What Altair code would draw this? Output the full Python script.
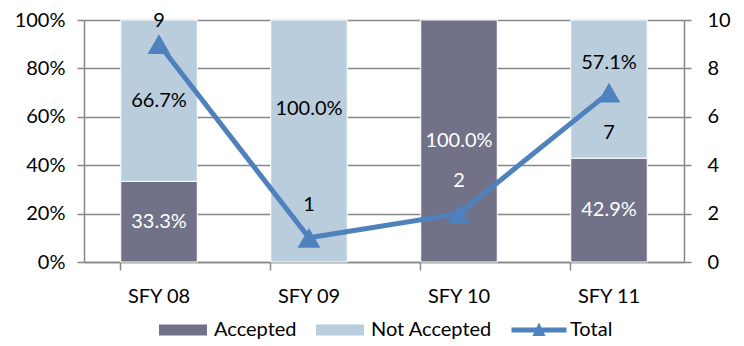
import altair as alt
import pandas as pd

categories = ["SFY 08", "SFY 09", "SFY 10", "SFY 11"]
accepted_pct = [33.3, 0.0, 100.0, 42.9]
not_accepted_pct = [66.7, 100.0, 0.0, 57.1]
totals = [9, 1, 2, 7]
series_names = ["Accepted", "Not Accepted", "Total"]
pct_ticks = [0, 20, 40, 60, 80, 100]
count_ticks = [0, 2, 4, 6, 8, 10]

COL_ACC = "#717287"
COL_NOT = "#b9cddd"
COL_TOT = "#4f81bd"
GRID = "#878787"
FONT = "Lato"
FS = 20

rows = []
for c, a, n in zip(categories, accepted_pct, not_accepted_pct):
    rows.append(dict(cat=c, series="Accepted", sidx=0, pct=a, mid=a / 2, label=f"{a:.1f}%"))
    rows.append(dict(cat=c, series="Not Accepted", sidx=1, pct=n, mid=a + n / 2, label=f"{n:.1f}%"))
bars_df = pd.DataFrame(rows)
bars_df = bars_df[bars_df.pct > 0].reset_index(drop=True)
tot_df = pd.DataFrame(dict(cat=categories, total=totals, tlabel=[str(t) for t in totals]))

x_enc = alt.X(
    "cat:N", sort=categories, title=None,
    scale=alt.Scale(domain=categories, paddingInner=0.49, paddingOuter=0.245),
    axis=alt.Axis(labelAngle=0, labelFont=FONT, labelFontSize=FS, labelColor="black",
                  labelPadding=16, tickSize=8, tickWidth=1.5, tickColor=GRID, bandPosition=0,
                  domainColor=GRID, domainWidth=1.5, grid=False),
)

left_axis = alt.Axis(values=pct_ticks, labelExpr="datum.value + '%'", grid=True, gridColor=GRID,
                     gridWidth=1.5, tickSize=7, tickWidth=1.5, tickColor=GRID, domainColor=GRID,
                     domainWidth=1.5, labelFont=FONT, labelFontSize=FS, labelColor="black",
                     labelPadding=12, orient="left", title=None)
pct_scale = alt.Scale(domain=[0, 100], nice=False)

bars = alt.Chart(bars_df).mark_bar(stroke="white", strokeWidth=1).encode(
    x=x_enc,
    y=alt.Y("pct:Q", stack="zero", scale=pct_scale, axis=left_axis, title=None),
    color=alt.Color("series:N", scale=alt.Scale(domain=series_names[:2], range=[COL_ACC, COL_NOT]), legend=None),
    order=alt.Order("sidx:Q"),
)

def bar_text(filter_expr, dy):
    return alt.Chart(bars_df).transform_filter(filter_expr).mark_text(
        font=FONT, fontSize=FS, baseline="middle", align="center", dy=dy
    ).encode(
        x=x_enc,
        y=alt.Y("mid:Q", scale=pct_scale, axis=left_axis, title=None),
        text="label:N",
        color=alt.condition("datum.series == 'Accepted'", alt.value("white"), alt.value("black")),
    )

lab_main = bar_text("!(datum.series == 'Not Accepted' && (datum.cat == 'SFY 09' || datum.cat == 'SFY 11'))", 0)
lab_09 = bar_text("datum.series == 'Not Accepted' && datum.cat == 'SFY 09'", -32)
lab_11 = bar_text("datum.series == 'Not Accepted' && datum.cat == 'SFY 11'", -26)

left = alt.layer(bars, lab_main, lab_09, lab_11)

right_axis = alt.Axis(values=count_ticks, grid=False, tickSize=7, tickWidth=1.5, tickColor=GRID,
                      domainColor=GRID, domainWidth=1.5, labelFont=FONT, labelFontSize=FS,
                      labelColor="black", labelPadding=16, orient="right", title=None)
cnt_scale = alt.Scale(domain=[0, 10], nice=False)
y_cnt = alt.Y("total:Q", scale=cnt_scale, axis=right_axis, title=None)

line = alt.Chart(tot_df).mark_line(color=COL_TOT, strokeWidth=5).encode(x=x_enc, y=y_cnt)
pts = alt.Chart(tot_df).mark_point(shape="triangle-up", filled=True, size=520, color=COL_TOT, opacity=1).encode(x=x_enc, y=y_cnt)

def tot_text(filter_expr, dy):
    return alt.Chart(tot_df).transform_filter(filter_expr).mark_text(
        font=FONT, fontSize=FS, baseline="middle", align="center", dy=dy
    ).encode(
        x=x_enc, y=y_cnt, text="tlabel:N",
        color=alt.condition("datum.cat == 'SFY 10'", alt.value("white"), alt.value("black")),
    )

tl_top = tot_text("datum.cat == 'SFY 08'", -23)
tl_above = tot_text("datum.cat == 'SFY 09' || datum.cat == 'SFY 10'", -33)
tl_below = tot_text("datum.cat == 'SFY 11'", 40)

# legend symbols: drawn at 5.5x the nominal symbol box (symbolSize 100 -> 10px box)
rect_path = "M-4.8,-1.1L4.8,-1.1L4.8,1.1L-4.8,1.1Z"
total_path = "M-5.5,-0.5L5.5,-0.5L5.5,0.5L-5.5,0.5Z M-1.3,1.2L0,-1.5L1.3,1.2Z"
leg = alt.Legend(title=None, orient="none", direction="horizontal", legendX=89, legendY=300,
                 symbolSize=100, symbolStrokeWidth=0, labelFont=FONT, labelFontSize=FS,
                 labelColor="black", labelOffset=21, columnPadding=19, padding=0)
legend_layer = alt.Chart(tot_df).transform_filter("false").mark_point(filled=True, opacity=1).encode(
    x=x_enc, y=y_cnt,
    color=alt.Color("series:N", scale=alt.Scale(domain=series_names, range=[COL_ACC, COL_NOT, COL_TOT]), legend=leg),
    shape=alt.Shape("series:N", scale=alt.Scale(domain=series_names, range=[rect_path, rect_path, total_path]), legend=leg),
)

right = alt.layer(line, pts, tl_top, tl_above, tl_below, legend_layer)

chart = alt.layer(left, right).resolve_scale(
    y="independent", color="independent", shape="independent"
).properties(
    width=600, height=242, padding={"left": 6, "top": 2, "right": 5, "bottom": 0}
).configure_view(stroke=None)

chart.save("out.html", embed_options={"renderer": "svg", "actions": False})
